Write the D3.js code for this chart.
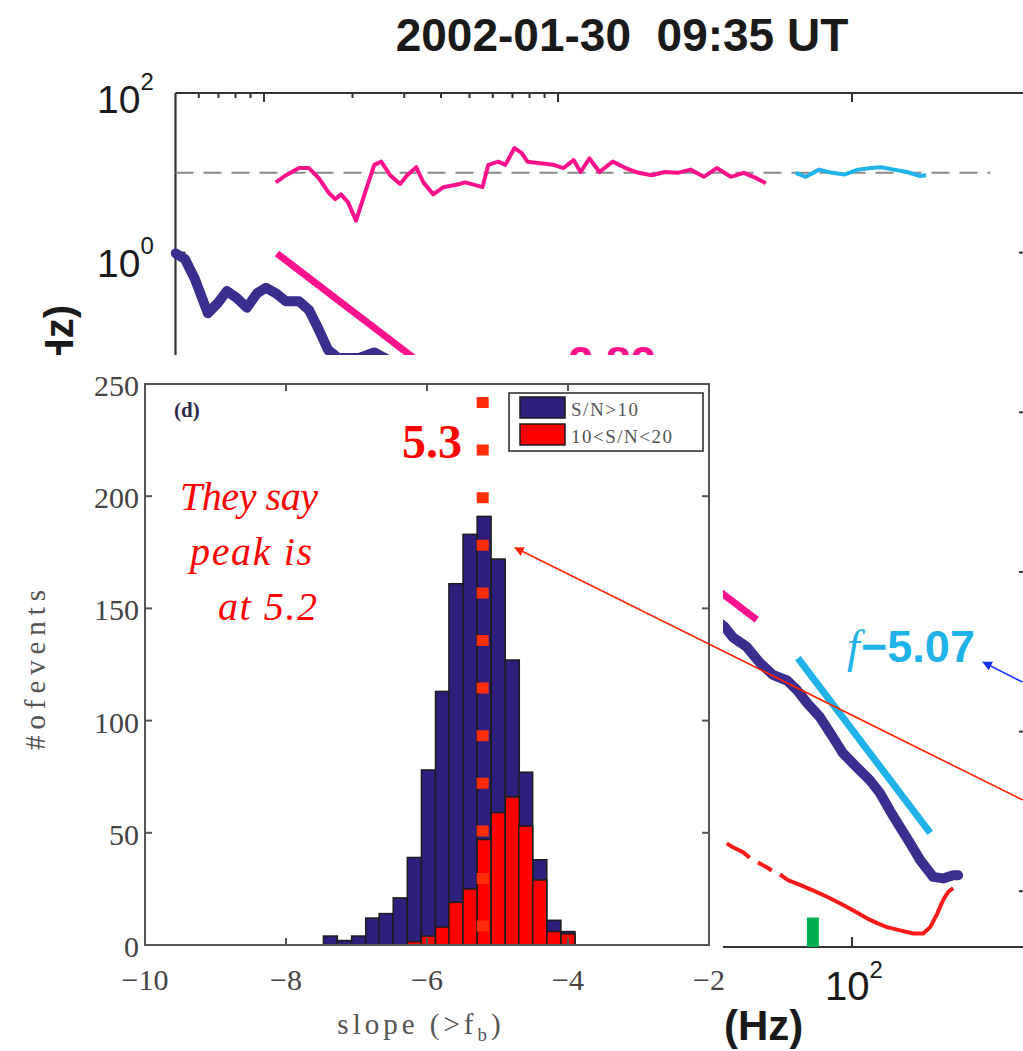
<!DOCTYPE html>
<html><head><meta charset="utf-8">
<script src="https://cdn.jsdelivr.net/npm/d3@7"></script>
<style>body{margin:0;background:#fff}svg{display:block}</style>
</head><body>
<svg id="c" width="1023" height="1051"></svg>
<script>
// ================= histogram (panel d) data =================
const binCenters = [-7.37,-7.17,-6.97,-6.77,-6.58,-6.38,-6.18,-5.98,-5.78,-5.59,-5.39,-5.19,-4.99,-4.79,-4.60,-4.40,-4.20,-4.00];
const binWidth = 0.198;
const countsSN10 = [4, 2, 4, 12, 14, 21, 39, 78, 113, 161, 183, 191, 172, 127, 77, 38, 11, 6];
const countsSN10to20 = [0, 0, 0, 0, 0, 0, 1.5, 4, 8, 19, 25, 47, 59, 66, 53, 29, 6, 5];
const histXTicks = [-10, -8, -6, -4, -2];
const histYTicks = [0, 50, 100, 150, 200, 250];
const markedPeak = -5.21;           // red dotted line, labelled 5.3
const arrowTail = [2.45, 64.6];     // red annotation arrow (histogram data coords)
const arrowTip = [-4.75, 177];

// ================= background spectrum data (log10 f [Hz], log10 P) =================
const ratioCurveA = [[0.04,0.88],[0.075,0.97],[0.119,1.06],[0.153,1.06],[0.187,0.93],[0.218,0.76],[0.242,0.67],[0.262,0.73],[0.286,0.63],[0.313,0.40],[0.341,0.72],[0.375,1.10],[0.399,1.14],[0.429,0.97],[0.463,0.86],[0.487,0.97],[0.518,1.07],[0.542,0.88],[0.576,0.73],[0.610,0.82],[0.654,0.85],[0.685,0.88],[0.743,0.82],[0.763,1.10],[0.797,1.14],[0.821,1.10],[0.852,1.31],[0.876,1.25],[0.896,1.14],[0.940,1.12],[0.985,1.10],[1.019,1.06],[1.053,1.16],[1.077,1.01],[1.107,1.18],[1.141,1.01],[1.186,1.14],[1.230,1.06],[1.274,1.00],[1.319,0.97],[1.363,1.01],[1.407,1.00],[1.451,1.04],[1.496,0.95],[1.540,1.06],[1.588,0.95],[1.632,1.00],[1.676,0.93],[1.707,0.87]];
const ratioCurveB = [[1.809,1.00],[1.843,0.95],[1.888,1.04],[1.932,1.00],[1.976,0.98],[2.020,1.04],[2.065,1.06],[2.099,1.07],[2.143,1.04],[2.187,1.01],[2.232,0.96],[2.252,0.97]];
const spectrum = [[-0.30,-0.01],[-0.269,-0.08],[-0.235,-0.33],[-0.191,-0.76],[-0.157,-0.63],[-0.126,-0.48],[-0.092,-0.57],[-0.058,-0.69],[-0.024,-0.51],[0.007,-0.44],[0.041,-0.51],[0.075,-0.61],[0.119,-0.61],[0.153,-0.72],[0.187,-0.97],[0.218,-1.22],[0.252,-1.32],[0.324,-1.32],[0.375,-1.25],[0.426,-1.35],
  [1.567,-4.69],[1.595,-4.82],[1.642,-4.94],[1.687,-5.14],[1.731,-5.29],[1.779,-5.36],[1.813,-5.48],[1.847,-5.64],[1.891,-5.82],[1.935,-6.07],[1.969,-6.27],[2.017,-6.45],[2.061,-6.61],[2.095,-6.77],[2.129,-6.99],[2.164,-7.20],[2.198,-7.40],[2.232,-7.61],[2.276,-7.82],[2.310,-7.84],[2.344,-7.80],[2.361,-7.80]];
const noiseCurve = [[1.574,-7.40],[1.595,-7.45],[1.629,-7.51],[1.652,-7.58],null,[1.680,-7.64],[1.710,-7.70],[1.727,-7.74],null,[1.755,-7.79],[1.782,-7.86],[1.823,-7.92],[1.867,-7.99],[1.915,-8.07],[1.959,-8.15],[2.003,-8.24],[2.051,-8.34],[2.085,-8.40],[2.119,-8.45],[2.164,-8.49],[2.208,-8.53],[2.242,-8.53],[2.266,-8.45],[2.290,-8.28],[2.310,-8.11],[2.327,-8.01],[2.344,-7.96]];
const fitLow = [[0.044,-0.01],[1.676,-4.60]];
const fitHigh = [[1.816,-5.08],[2.266,-7.27]];
const fitLowLabel = "\u22122.82";
const fitHighLabel = "\u22125.07";
const fbMarker = [1.867, -8.33];
const refLevel = 10;
const refLevelEnd = 2.47;
const blueArrowTail = [2.58, -5.38], blueArrowTip = [2.446, -5.13];
const topMinorTicks = [0.6,0.7,0.8,0.9,2,3,4,5,6,7,8,9];
const topMajorTicks = [1,10,100];
const sideTicks = [1,1e-2,1e-4,1e-6,1e-8];

const svg = d3.select('#c');
const defs = svg.append('defs');
function marker(id, color){
  defs.append('marker').attr('id',id).attr('viewBox','0 0 10 10').attr('refX',9).attr('refY',5)
    .attr('markerWidth',6).attr('markerHeight',6).attr('orient','auto-start-reverse')
    .append('path').attr('d','M0,0 L10,5 L0,10 Z').attr('fill',color);
}
marker('arR','#ff2200'); marker('arB','#1030ff');

// ---------------- background spectrum panel ----------------
const ux = d3.scaleLog().domain([0.5, 400]).range([175.5, 1029]);
const uy = d3.scaleLog().domain([2e-9, 100]).range([947, 93]);
const ln = d3.line().defined(d => d != null).x(d => ux(10**d[0])).y(d => uy(10**d[1]));
const bg = svg.append('g');
const sans = 'Liberation Sans, Arial, sans-serif';

bg.append('text').attr('x',622).attr('y',51).attr('text-anchor','middle')
  .attr('font-family',sans).attr('font-weight','bold')
  .attr('font-size',46).attr('fill','#1a1a1a').attr('xml:space','preserve').text('2002-01-30  09:35 UT');

const axC = '#333';
bg.append('line').attr('x1',ux(0.5)).attr('x2',ux(400)).attr('y1',uy(100)).attr('y2',uy(100)).attr('stroke',axC).attr('stroke-width',2.2);
bg.append('line').attr('x1',ux(0.5)).attr('x2',ux(400)).attr('y1',uy(2e-9)).attr('y2',uy(2e-9)).attr('stroke',axC).attr('stroke-width',2.2);
bg.append('line').attr('x1',ux(0.5)).attr('x2',ux(0.5)).attr('y1',uy(100)).attr('y2',uy(2e-9)).attr('stroke',axC).attr('stroke-width',2.2);
bg.append('line').attr('x1',ux(400)).attr('x2',ux(400)).attr('y1',uy(100)).attr('y2',uy(2e-9)).attr('stroke',axC).attr('stroke-width',2.2);
topMinorTicks.forEach(v=>{
  bg.append('line').attr('x1',ux(v)).attr('x2',ux(v)).attr('y1',uy(100)).attr('y2',uy(100)+5).attr('stroke',axC).attr('stroke-width',2);
});
topMajorTicks.forEach(v=>{
  bg.append('line').attr('x1',ux(v)).attr('x2',ux(v)).attr('y1',uy(100)).attr('y2',uy(100)+9).attr('stroke',axC).attr('stroke-width',2);
  bg.append('line').attr('x1',ux(v)).attr('x2',ux(v)).attr('y1',uy(2e-9)).attr('y2',uy(2e-9)-10).attr('stroke',axC).attr('stroke-width',2);
});
sideTicks.forEach(v=>{
  bg.append('line').attr('x1',ux(400)).attr('x2',ux(400)-10).attr('y1',uy(v)).attr('y2',uy(v)).attr('stroke',axC).attr('stroke-width',2);
  bg.append('line').attr('x1',ux(0.5)).attr('x2',ux(0.5)+10).attr('y1',uy(v)).attr('y2',uy(v)).attr('stroke',axC).attr('stroke-width',2);
});
// y labels
[[100,'2',113,90],[1,'0',277,254]].forEach(([v,e,b,sb])=>{
  const t = bg.append('text').attr('font-family',sans).attr('fill','#1a1a1a');
  t.append('tspan').attr('x',97).attr('y',b).attr('font-size',39).text('10');
  t.append('tspan').attr('y',sb).attr('font-size',24).text(e);
});
// x label 10^2
{
  const t = bg.append('text').attr('font-family',sans).attr('fill','#1a1a1a').attr('text-anchor','middle').attr('x',ux(100)+2).attr('y',1000);
  t.append('tspan').attr('font-size',40).text('10');
  t.append('tspan').attr('font-size',24).attr('dy',-22).text('2');
}
bg.append('text').attr('x',724).attr('y',1040).attr('font-family',sans).attr('font-weight','bold').attr('font-size',42).attr('fill','#1a1a1a').text('(Hz)');
bg.append('text').attr('transform','translate(73,305) rotate(-90)').attr('text-anchor','end').attr('font-family',sans).attr('font-weight','bold').attr('font-size',40).attr('fill','#1a1a1a').text('(nT\u00b2/Hz)');

// reference dashed level
bg.append('line').attr('x1',ux(0.5)).attr('x2',ux(10**refLevelEnd)).attr('y1',uy(refLevel)).attr('y2',uy(refLevel))
  .attr('stroke','#8a8a8a').attr('stroke-width',2).attr('stroke-dasharray','18 10');

bg.append('path').attr('d',ln(ratioCurveA)).attr('fill','none').attr('stroke','#ff108c').attr('stroke-width',4).attr('stroke-linejoin','round');
bg.append('path').attr('d',ln(ratioCurveB)).attr('fill','none').attr('stroke','#1fb3ea').attr('stroke-width',4).attr('stroke-linejoin','round');
bg.append('path').attr('d',ln(spectrum)).attr('fill','none').attr('stroke','#3a2e8e').attr('stroke-width',10).attr('stroke-linejoin','round').attr('stroke-linecap','round');
bg.append('path').attr('d',ln(fitLow)).attr('fill','none').attr('stroke','#ff108c').attr('stroke-width',7);
bg.append('path').attr('d',ln(fitHigh)).attr('fill','none').attr('stroke','#1fb3ea').attr('stroke-width',7);
bg.append('path').attr('d',ln(noiseCurve)).attr('fill','none').attr('stroke','#ff1a1a').attr('stroke-width',4).attr('stroke-linejoin','round');
bg.append('rect').attr('x',ux(10**fbMarker[0])-6).attr('width',12).attr('y',uy(10**fbMarker[1])).attr('height',uy(2e-9)-uy(10**fbMarker[1])).attr('fill','#00b050');

// fit labels
{
  bg.append('text').attr('fill','#ff108c').attr('font-family',sans).attr('font-weight','bold').attr('font-size',45).attr('x',542).attr('y',378).text(fitLowLabel);
  const g2 = bg.append('text').attr('fill','#1fb3ea');
  g2.append('tspan').attr('x',ux(10**1.99)-2).attr('y',uy(10**-5.13)).attr('font-family','Liberation Serif, serif').attr('font-style','italic').attr('font-size',46).text('f');
  g2.append('tspan').attr('x',ux(10**1.99)+12).attr('font-family',sans).attr('font-weight','bold').attr('font-size',45).text(fitHighLabel);
}
// blue arrow
bg.append('line').attr('x1',ux(10**blueArrowTail[0])).attr('y1',uy(10**blueArrowTail[1])).attr('x2',ux(10**blueArrowTip[0])).attr('y2',uy(10**blueArrowTip[1]))
  .attr('stroke','#1030ff').attr('stroke-width',1.6).attr('marker-end','url(#arB)');

// ---------------- overlay (pasted histogram panel) ----------------
svg.append('rect').attr('x',0).attr('y',355).attr('width',723).attr('height',696).attr('fill','#fff');

const hx = d3.scaleLinear().domain([-10,-2]).range([145,709]);
const hy = d3.scaleLinear().domain([0,250]).range([945,384]);
const h = svg.append('g');
const blue = '#2f1f7d', red = '#ff0000', edge = '#1c1c1c';

h.selectAll('rect.b').data(binCenters).join('rect').attr('class','b')
  .attr('x',(c)=>hx(c-binWidth/2)).attr('width',(c)=>hx(c+binWidth/2)-hx(c-binWidth/2))
  .attr('y',(c,i)=>hy(countsSN10[i])).attr('height',(c,i)=>hy(0)-hy(countsSN10[i]))
  .attr('fill',blue).attr('stroke',edge).attr('stroke-width',1.5);
const redData = binCenters.map((c,i)=>({c, v: countsSN10to20[i]})).filter(d=>d.v>0);
h.selectAll('rect.r').data(redData).join('rect').attr('class','r')
  .attr('x',d=>hx(d.c-binWidth/2)).attr('width',d=>hx(d.c+binWidth/2)-hx(d.c-binWidth/2))
  .attr('y',d=>hy(d.v)).attr('height',d=>hy(0)-hy(d.v))
  .attr('fill',red).attr('stroke',edge).attr('stroke-width',1.5);

// frame + ticks
const fc = '#555';
h.append('rect').attr('x',hx(-10)).attr('y',hy(250)).attr('width',hx(-2)-hx(-10)).attr('height',hy(0)-hy(250)).attr('fill','none').attr('stroke',fc).attr('stroke-width',2);
histYTicks.filter(v=>v>0&&v<250).forEach(v=>{
  h.append('line').attr('x1',hx(-10)).attr('x2',hx(-10)+7).attr('y1',hy(v)).attr('y2',hy(v)).attr('stroke',fc).attr('stroke-width',2);
  h.append('line').attr('x1',hx(-2)).attr('x2',hx(-2)-7).attr('y1',hy(v)).attr('y2',hy(v)).attr('stroke',fc).attr('stroke-width',2);
});
histXTicks.filter(v=>v>-10&&v<-2).forEach(v=>{
  h.append('line').attr('x1',hx(v)).attr('x2',hx(v)).attr('y1',hy(0)).attr('y2',hy(0)-7).attr('stroke',fc).attr('stroke-width',2);
  h.append('line').attr('x1',hx(v)).attr('x2',hx(v)).attr('y1',hy(250)).attr('y2',hy(250)+7).attr('stroke',fc).attr('stroke-width',2);
});
const serif = 'Liberation Serif, Times New Roman, serif';
histYTicks.forEach(v=>{
  h.append('text').attr('x',139).attr('y',hy(v)+12).attr('text-anchor','end').attr('font-family',serif).attr('font-size',30).attr('fill','#444').text(v);
});
histXTicks.forEach(v=>{
  h.append('text').attr('x',hx(v)).attr('y',990).attr('text-anchor','middle').attr('font-family',serif).attr('font-size',30).attr('fill','#444').text(String(v).replace('-','\u2212'));
});
h.append('text').attr('transform','translate(45,670) rotate(-90)').attr('text-anchor','middle').attr('font-family',serif).attr('font-size',29).attr('fill','#555').attr('textLength',160).attr('lengthAdjust','spacing').text('#ofevents');
{
  const t = h.append('text').attr('x',421).attr('y',1034).attr('text-anchor','middle').attr('font-family',serif).attr('font-size',29).attr('fill','#555').attr('letter-spacing',4).attr('xml:space','preserve');
  t.append('tspan').text('slope (>f');
  t.append('tspan').attr('font-size',19).attr('dy',7).text('b');
  t.append('tspan').attr('dy',-7).text(')');
}
h.append('text').attr('x',174).attr('y',417).attr('font-family',serif).attr('font-weight','bold').attr('font-size',21).attr('fill','#2a2a4a').text('(d)');

// legend
const lg = h.append('g');
lg.append('rect').attr('x',509).attr('y',393).attr('width',194).attr('height',58).attr('fill','#fff').attr('stroke','#333').attr('stroke-width',1.6);
lg.append('rect').attr('x',520).attr('y',397).attr('width',45).attr('height',21).attr('fill',blue).attr('stroke',edge).attr('stroke-width',1.5);
lg.append('rect').attr('x',520).attr('y',424).attr('width',45).attr('height',21).attr('fill',red).attr('stroke',edge).attr('stroke-width',1.5);
lg.append('text').attr('x',571).attr('y',416).attr('font-family',serif).attr('font-size',19).attr('fill','#555').attr('textLength',67).text('S/N>10');
lg.append('text').attr('x',571).attr('y',443).attr('font-family',serif).attr('font-size',19).attr('fill','#555').attr('textLength',101).text('10<S/N<20');

// dotted peak marker
h.append('line').attr('x1',hx(markedPeak)).attr('x2',hx(markedPeak)).attr('y1',hy(250)+13).attr('y2',hy(0))
  .attr('stroke','#ff2d0a').attr('stroke-width',12).attr('stroke-dasharray','11 36.6');
h.append('text').attr('x',462).attr('y',458).attr('text-anchor','end').attr('font-family',serif).attr('font-weight','bold').attr('font-size',48).attr('fill','#ff0000').text('5.3');

// annotation text
[['They say',180,510,138],['peak is',190,565,122],['at 5.2',218,620,99]].forEach(([s,x,y,w])=>{
  h.append('text').attr('x',x).attr('y',y).attr('font-family',serif).attr('font-style','italic').attr('font-size',40).attr('fill','#ff0000').attr('textLength',w).attr('lengthAdjust','spacing').text(s);
});

// red arrow
svg.append('line').attr('x1',hx(arrowTail[0])).attr('y1',hy(arrowTail[1])).attr('x2',hx(arrowTip[0])).attr('y2',hy(arrowTip[1]))
  .attr('stroke','#ff2200').attr('stroke-width',1.6).attr('marker-end','url(#arR)');
</script>
</body></html>
